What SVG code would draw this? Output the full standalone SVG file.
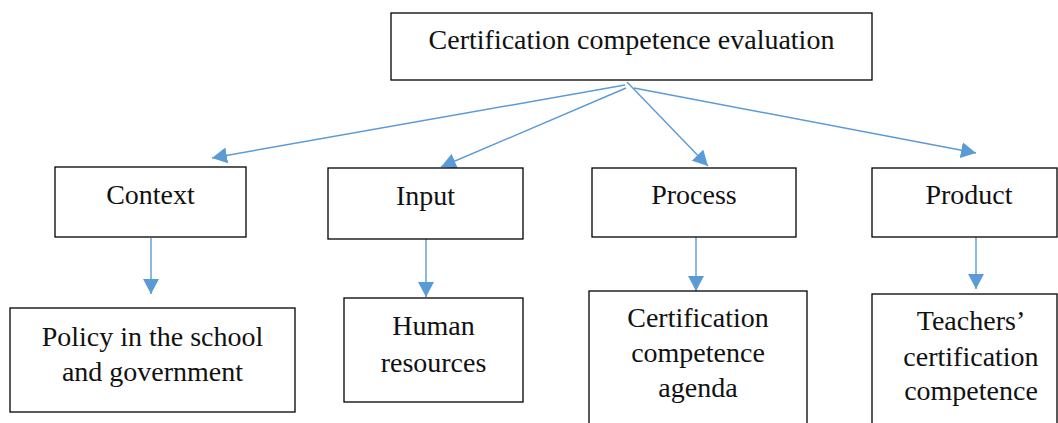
<svg xmlns="http://www.w3.org/2000/svg" width="1058" height="423" viewBox="0 0 1058 423">
  <style>
    .box { fill: #ffffff; stroke: #000000; stroke-width: 1.3; }
    .lbl { font-family: "Liberation Serif", Tinos, "Times New Roman", Times, serif; font-size: 28px; fill: #111111; text-anchor: middle; }
    .conn { stroke: #5b9bd5; stroke-width: 1.4; fill: none; marker-end: url(#arrow); }
  </style>
  <defs>
    <marker id="arrow" viewBox="0 0 15 16" refX="15" refY="8" markerWidth="15" markerHeight="16" markerUnits="userSpaceOnUse" orient="auto">
      <path d="M0,0 L15,8 L0,16 z" fill="#5b9bd5"/>
    </marker>
  </defs>
  <rect width="1058" height="423" fill="#ffffff"/>

  <g id="connectors">
    <line class="conn" x1="625" y1="85" x2="212" y2="158"/>
    <line class="conn" x1="626" y1="88" x2="441" y2="167"/>
    <line class="conn" x1="627" y1="82" x2="708" y2="166"/>
    <line class="conn" x1="634" y1="88" x2="976" y2="153"/>
    <line class="conn" x1="151" y1="238" x2="151" y2="294"/>
    <line class="conn" x1="426" y1="239" x2="426" y2="297"/>
    <line class="conn" x1="696" y1="237" x2="696" y2="291"/>
    <line class="conn" x1="976" y1="234" x2="976" y2="289"/>
  </g>

  <g id="evaluation">
    <rect class="box" x="391" y="13" width="481" height="67"/>
    <text class="lbl" x="631.5" y="49">Certification competence evaluation</text>
  </g>

  <g id="context">
    <rect class="box" x="55" y="167" width="191" height="70"/>
    <text class="lbl" x="150.5" y="204">Context</text>
  </g>
  <g id="input">
    <rect class="box" x="328" y="168" width="195" height="71"/>
    <text class="lbl" x="425.5" y="205">Input</text>
  </g>
  <g id="process">
    <rect class="box" x="592" y="168" width="204" height="69"/>
    <text class="lbl" x="694" y="204">Process</text>
  </g>
  <g id="product">
    <rect class="box" x="872" y="168" width="185" height="69"/>
    <text class="lbl" x="969" y="204">Product</text>
  </g>

  <g id="policy">
    <rect class="box" x="10" y="308" width="285" height="104"/>
    <text class="lbl" x="152.5" y="346">Policy in the school</text>
    <text class="lbl" x="152.5" y="381">and government</text>
  </g>
  <g id="human-resources">
    <rect class="box" x="344" y="298" width="179" height="104"/>
    <text class="lbl" x="433.5" y="335">Human</text>
    <text class="lbl" x="433.5" y="372">resources</text>
  </g>
  <g id="agenda">
    <rect class="box" x="589" y="291" width="218" height="140"/>
    <text class="lbl" x="698" y="327">Certification</text>
    <text class="lbl" x="698" y="362">competence</text>
    <text class="lbl" x="698" y="397">agenda</text>
  </g>
  <g id="teachers">
    <rect class="box" x="872" y="294" width="185" height="140"/>
    <text class="lbl" x="971" y="330">Teachers’</text>
    <text class="lbl" x="971" y="366">certification</text>
    <text class="lbl" x="971" y="400">competence</text>
  </g>
</svg>
